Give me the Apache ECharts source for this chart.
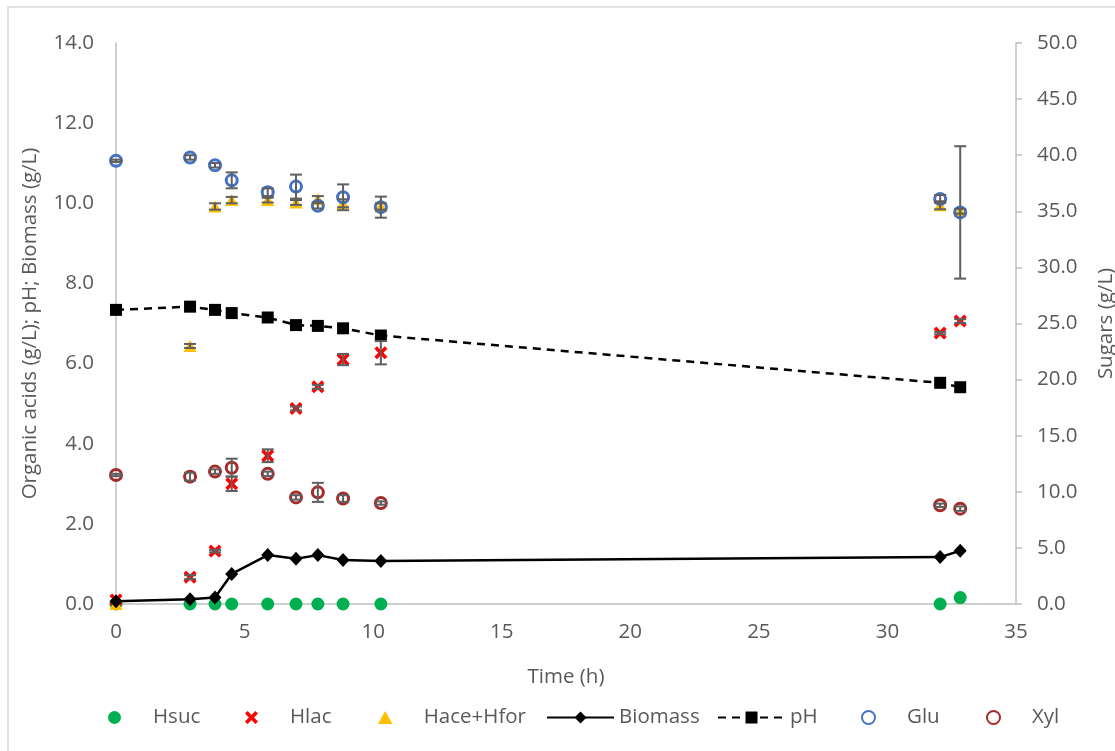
<!DOCTYPE html>
<html>
<head>
<meta charset="utf-8">
<script src="https://cdn.jsdelivr.net/npm/echarts@6/dist/echarts.min.js"></script>
<style>
  html, body { margin: 0; padding: 0; background: #ffffff; }
  #chart { width: 1115px; height: 751px; }
</style>
</head>
<body>
<div id="chart"></div>
<script>
// Sampling times (h)
const time = [0, 2.88, 3.85, 4.5, 5.9, 7.0, 7.85, 8.83, 10.3, 32.05, 32.83];

// Organic acids, pH and biomass (left axis)
const hsuc    = [0, 0, 0, 0, 0, 0, 0, 0, 0, 0, 0.16];
const hlac    = [0.1, 0.67, 1.32, 3.0, 3.7, 4.88, 5.42, 6.1, 6.27, 6.76, 7.06];
const hlacErr = [0, 0.05, 0.03, 0.18, 0.16, 0.05, 0.05, 0.14, 0.29, 0.03, 0.05];
const hace    = [0, 6.44, 9.92, 10.08, 10.08, 10.02, 10.1, 10.0, 9.92, 9.95, 9.8];
const haceErr = [0, 0.05, 0.08, 0.08, 0.06, 0.06, 0.08, 0.1, 0.08, 0.1, 0.06];
const biomass = [0.07, 0.12, 0.16, 0.75, 1.22, 1.13, 1.22, 1.1, 1.07, 1.17, 1.33];
const ph      = [7.34, 7.42, 7.34, 7.26, 7.15, 6.96, 6.94, 6.88, 6.7, 5.52, 5.41];

// Sugars (right axis)
const glu    = [39.5, 39.8, 39.1, 37.76, 36.7, 37.2, 35.5, 36.25, 35.37, 36.1, 34.9];
const gluErr = [0.1, 0.2, 0.2, 0.71, 0.35, 1.07, 0.25, 1.15, 0.94, 0.35, 5.9];
const xyl    = [11.5, 11.35, 11.8, 12.15, 11.6, 9.5, 9.95, 9.4, 9.0, 8.8, 8.5];
const xylErr = [0.1, 0.35, 0.2, 0.8, 0.2, 0.2, 0.85, 0.3, 0.15, 0.15, 0.2];

// Axis ranges and steps
const xTicks = { min: 0, max: 35, step: 5 };
const leftTicks = { min: 0, max: 14, step: 2 };
const rightTicks = { min: 0, max: 50, step: 5 };

// Legend entries, where each one starts along the bottom row, and icon heights
const seriesNames = ['Hsuc', 'Hlac', 'Hace+Hfor', 'Biomass', 'pH', 'Glu', 'Xyl'];
const legendLeft  = [108, 245, 378, 546, 717, 861, 986];
const legendIconH = [13, 13, 13, 15, 15, 13, 13];

const TEXT = '#595959';
const AXIS = '#bfbfbf';
const FONT = '"Open Sans", "Noto Sans", sans-serif';
const FS = 20.5;

const crossPath = 'path://M0,20 L20,0 L50,30 L80,0 L100,20 L70,50 L100,80 L80,100 L50,70 L20,100 L0,80 L30,50 Z';
const trianglePath = 'path://M50,0 L100,90 L0,90 Z';

const pairs = vals => vals.map((v, i) => [time[i], v]);
const errData = (vals, errs) => vals
  .map((v, i) => [time[i], v - errs[i], v + errs[i], errs[i]])
  .filter(d => d[3] > 0);

function errRenderItem(params, api) {
  const x = api.value(0);
  const lo = api.coord([x, api.value(1)]);
  const hi = api.coord([x, api.value(2)]);
  const half = 6;
  const style = { stroke: '#5f5f5f', lineWidth: 2 };
  return {
    type: 'group',
    children: [
      { type: 'line', shape: { x1: lo[0], y1: lo[1], x2: hi[0], y2: hi[1] }, style },
      { type: 'line', shape: { x1: lo[0] - half, y1: lo[1], x2: lo[0] + half, y2: lo[1] }, style },
      { type: 'line', shape: { x1: hi[0] - half, y1: hi[1], x2: hi[0] + half, y2: hi[1] }, style }
    ]
  };
}

function errSeries(vals, errs, axisIndex) {
  return {
    type: 'custom',
    yAxisIndex: axisIndex,
    renderItem: errRenderItem,
    encode: { x: 0, y: [1, 2] },
    data: errData(vals, errs),
    z: 4,
    silent: true
  };
}

const legends = seriesNames.map((name, i) => ({
  data: [name],
  left: legendLeft[i],
  top: 707,
  padding: 0,
  itemWidth: 67,
  itemHeight: legendIconH[i],
  textStyle: { color: TEXT, fontSize: FS, fontFamily: FONT }
}));

const chart = echarts.init(document.getElementById('chart'), null, { renderer: 'canvas' });

chart.setOption({
  animation: false,
  backgroundColor: '#ffffff',
  textStyle: { fontFamily: FONT },
  graphic: [{
    type: 'rect',
    shape: { x: 8, y: 7, width: 1120, height: 760 },
    style: { fill: 'none', stroke: '#d9d9d9', lineWidth: 1.5 },
    silent: true
  }],
  grid: { left: 116, right: 99, top: 43, bottom: 147, outerBoundsMode: 'none', containLabel: false },
  legend: legends,
  xAxis: {
    type: 'value',
    min: xTicks.min, max: xTicks.max, interval: xTicks.step,
    name: 'Time (h)',
    nameLocation: 'middle',
    nameGap: 63,
    nameTextStyle: { color: TEXT, fontSize: FS, fontFamily: FONT },
    axisLine: { show: true, onZero: false, lineStyle: { color: AXIS, width: 1.5 } },
    axisTick: { show: false },
    splitLine: { show: false },
    axisLabel: { color: TEXT, fontSize: FS, fontFamily: FONT, margin: 18 }
  },
  yAxis: [{
    type: 'value',
    position: 'left',
    min: leftTicks.min, max: leftTicks.max, interval: leftTicks.step,
    name: 'Organic acids (g/L); pH; Biomass (g/L)',
    nameLocation: 'middle',
    nameRotate: 90,
    nameGap: 75,
    nameTextStyle: { color: TEXT, fontSize: FS, fontFamily: FONT },
    axisLine: { show: true, lineStyle: { color: AXIS, width: 1.5 } },
    axisTick: { show: false },
    splitLine: { show: false },
    axisLabel: { color: TEXT, fontSize: FS, fontFamily: FONT, margin: 22, formatter: v => v.toFixed(1) }
  }, {
    type: 'value',
    position: 'right',
    min: rightTicks.min, max: rightTicks.max, interval: rightTicks.step,
    name: 'Sugars (g/L)',
    nameLocation: 'middle',
    nameRotate: 90,
    nameGap: 80,
    nameTextStyle: { color: TEXT, fontSize: FS, fontFamily: FONT },
    axisLine: { show: true, lineStyle: { color: AXIS, width: 1.5 } },
    axisTick: { show: true, length: 6, lineStyle: { color: AXIS, width: 1.5 } },
    splitLine: { show: false },
    axisLabel: { color: TEXT, fontSize: FS, fontFamily: FONT, margin: 21, formatter: v => v.toFixed(1) }
  }],
  series: [
    {
      name: 'Hsuc', type: 'scatter', yAxisIndex: 0,
      symbol: 'circle', symbolSize: 13,
      itemStyle: { color: '#00b050', opacity: 1 },
      data: pairs(hsuc), z: 2
    },
    {
      name: 'Hlac', type: 'scatter', yAxisIndex: 0,
      symbol: crossPath, symbolSize: 13,
      itemStyle: { color: '#ff0000', opacity: 1 },
      data: pairs(hlac), z: 2
    },
    {
      name: 'Hace+Hfor', type: 'scatter', yAxisIndex: 0,
      symbol: trianglePath, symbolSize: [13, 12],
      itemStyle: { color: '#ffc000', opacity: 1 },
      data: pairs(hace), z: 2
    },
    {
      name: 'Biomass', type: 'line', yAxisIndex: 0,
      symbol: 'diamond', symbolSize: [13, 14], showSymbol: true,
      lineStyle: { color: '#000000', width: 2.5 },
      itemStyle: { color: '#000000' },
      data: pairs(biomass), z: 3
    },
    {
      name: 'pH', type: 'line', yAxisIndex: 0,
      symbol: 'rect', symbolSize: 12, showSymbol: true,
      lineStyle: { color: '#000000', width: 2.5, type: [8, 6] },
      itemStyle: { color: '#000000' },
      data: pairs(ph), z: 3
    },
    {
      name: 'Glu', type: 'scatter', yAxisIndex: 1,
      symbol: 'circle', symbolSize: 11,
      itemStyle: { color: 'rgba(255,255,255,0)', borderColor: '#4472c4', borderWidth: 3, opacity: 1 },
      data: pairs(glu), z: 3
    },
    {
      name: 'Xyl', type: 'scatter', yAxisIndex: 1,
      symbol: 'circle', symbolSize: 11,
      itemStyle: { color: 'rgba(255,255,255,0)', borderColor: '#a52a2a', borderWidth: 3, opacity: 1 },
      data: pairs(xyl), z: 3
    },
    errSeries(hlac, hlacErr, 0),
    errSeries(hace, haceErr, 0),
    errSeries(glu, gluErr, 1),
    errSeries(xyl, xylErr, 1)
  ]
});
</script>
</body>
</html>
